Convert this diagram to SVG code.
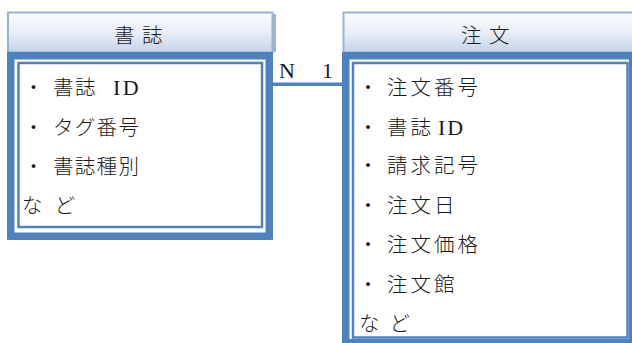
<svg xmlns="http://www.w3.org/2000/svg" width="632" height="343" viewBox="0 0 632 343">
<defs>
<linearGradient id="hdr" x1="0" y1="0" x2="0" y2="1">
<stop offset="0" stop-color="#fbfcfe"/>
<stop offset="0.5" stop-color="#e9eef7"/>
<stop offset="1" stop-color="#c3d3e9"/>
</linearGradient>
</defs>
<style>
.hdr{fill:url(#hdr);stroke:#95b3d7;stroke-width:2}
.band{fill:#ffffff;stroke:#4f81bd;stroke-width:7.5}
.inner{fill:#ffffff;stroke:#4f81bd;stroke-width:2.5}
.jp{font-family:"Noto Sans CJK JP","Noto Sans",sans-serif;font-size:20.5px;fill:#1a1a1a;font-weight:300}
.lat{font-family:"Liberation Serif","Noto Sans CJK JP",serif;font-size:22px;fill:#1a1a1a}
.ttl{font-family:"Noto Sans CJK JP",sans-serif;font-size:20.5px;fill:#1a1a1a;font-weight:300;letter-spacing:7.5px}
.conn{stroke:#4f81bd;stroke-width:3.5;fill:none}
</style>
<g id="connectors">
<line class="conn" x1="272" y1="84.3" x2="344" y2="84.3"/>
<text class="lat" x="279" y="78" font-size="21">N</text>
<text class="lat" x="322" y="78" font-size="21">1</text>
</g>
<g id="node-shoshi">
<rect x="273" y="14" width="3" height="38" fill="#a9b1bd"/>
<rect class="hdr" x="8" y="12.5" width="264.5" height="40"/>
<text class="ttl" x="114" y="42.5">書誌</text>
<rect class="band" x="10.75" y="55.75" width="258.5" height="180.5"/>
<rect class="inner" x="18.5" y="63" width="243.5" height="164"/>
<text class="jp" x="33.5" y="95" text-anchor="middle">・</text>
<text class="jp" x="53" y="95" letter-spacing="1.5">書誌</text>
<text class="lat" x="113" y="95" letter-spacing="2.5">ID</text>
<text class="jp" x="33.5" y="135" text-anchor="middle">・</text>
<text class="jp" x="53" y="135" letter-spacing="1.3">タグ番号</text>
<text class="jp" x="33.5" y="174" text-anchor="middle">・</text>
<text class="jp" x="53" y="174" letter-spacing="1.3">書誌種別</text>
<text class="jp" x="22" y="213" letter-spacing="12">など</text>
</g>
<g id="node-chumon">
<rect class="hdr" x="343.5" y="12.5" width="300" height="40"/>
<text class="ttl" x="461" y="42.5">注文</text>
<rect class="band" x="345.75" y="55.75" width="287" height="287"/>
<rect class="inner" x="353" y="63" width="274.5" height="274.5"/>
<text class="jp" x="368" y="95" text-anchor="middle">・</text>
<text class="jp" x="387" y="95" letter-spacing="3">注文番号</text>
<text class="jp" x="368" y="135" text-anchor="middle">・</text>
<text class="jp" x="387" y="135" letter-spacing="3">書誌</text>
<text class="lat" x="438" y="135" letter-spacing="2">ID</text>
<text class="jp" x="368" y="173" text-anchor="middle">・</text>
<text class="jp" x="387" y="173" letter-spacing="3">請求記号</text>
<text class="jp" x="368" y="213" text-anchor="middle">・</text>
<text class="jp" x="387" y="213" letter-spacing="3">注文日</text>
<text class="jp" x="368" y="252" text-anchor="middle">・</text>
<text class="jp" x="387" y="252" letter-spacing="3">注文価格</text>
<text class="jp" x="368" y="292" text-anchor="middle">・</text>
<text class="jp" x="387" y="292" letter-spacing="3">注文館</text>
<text class="jp" x="359" y="331" letter-spacing="10">など</text>
</g>
</svg>
